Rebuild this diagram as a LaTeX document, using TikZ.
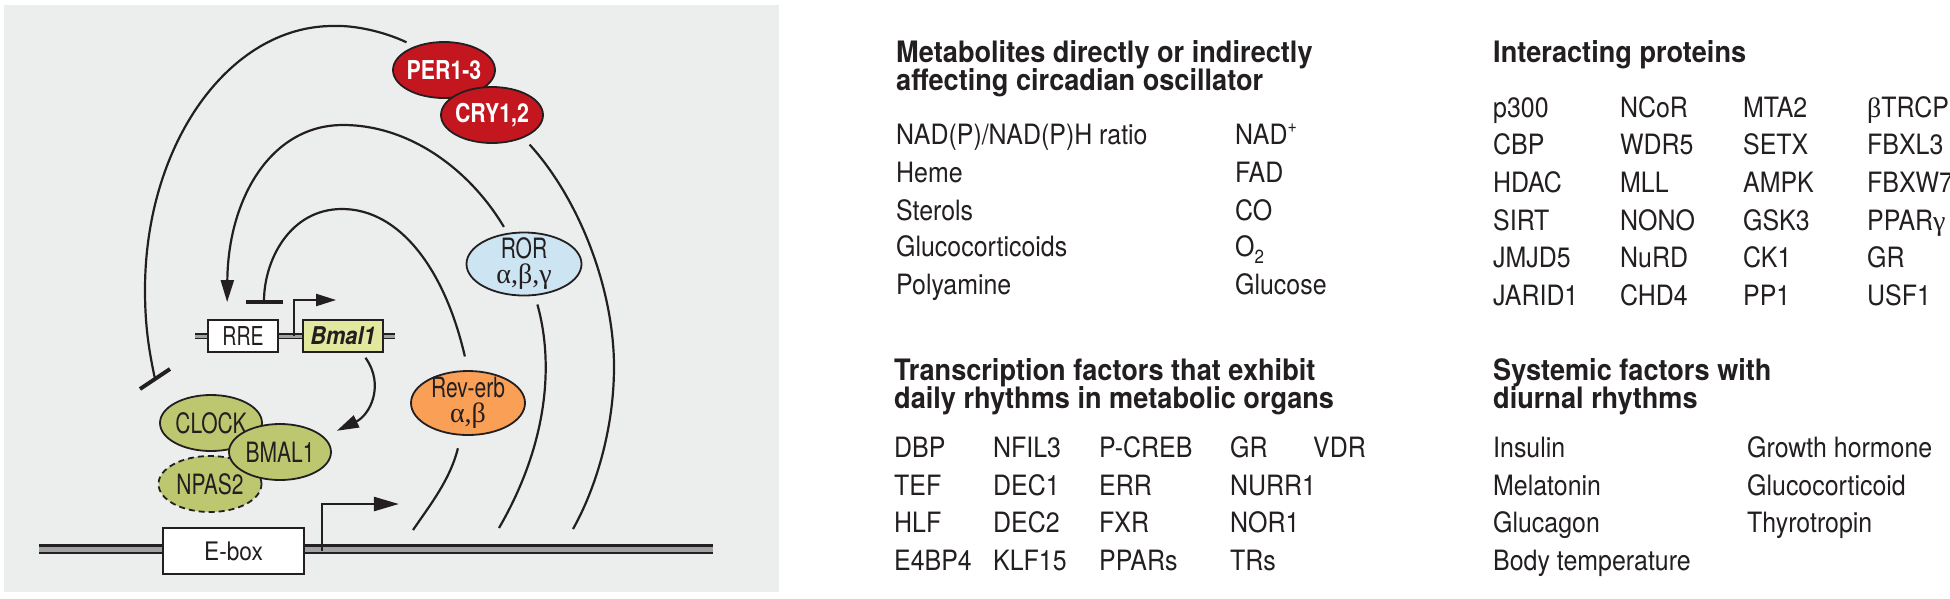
\documentclass[tikz,border=0pt]{standalone}
\usepackage{fontspec}
\setmainfont{TeX Gyre Heros}
\newfontfamily\bodyf[FakeStretch=0.89]{TeX Gyre Heros}
\newfontfamily\headf[FakeStretch=0.92]{TeX Gyre Heros}
\newfontfamily\diagf[FakeStretch=0.75]{TeX Gyre Heros}
\newfontfamily\redf[FakeStretch=0.82]{TeX Gyre Heros}
\newfontfamily\grkf{Liberation Serif}
\usetikzlibrary{shapes.geometric,arrows.meta,calc}
\definecolor{ink}{RGB}{35,31,32}
\definecolor{panel}{RGB}{236,238,237}
\definecolor{perred}{RGB}{196,22,30}
\definecolor{rorblue}{RGB}{205,228,242}
\definecolor{revorange}{RGB}{249,160,86}
\definecolor{clkgreen}{RGB}{189,199,112}
\definecolor{genyellow}{RGB}{226,232,158}
\definecolor{dnagrey}{RGB}{160,162,165}
\tikzset{
  curve/.style={draw=ink, line width=2.2pt},
  arr/.style={-{Triangle[length=22pt,width=13pt]}},
  prot/.style={ellipse, draw=ink, line width=1.8pt, inner xsep=-6pt, inner ysep=-12pt,
    minimum width=102pt, minimum height=56pt, text=ink, align=center,
    font=\diagf\fontsize{28}{25}\selectfont},
  redprot/.style={prot, fill=perred, text=white, font=\redf\bfseries\fontsize{26}{26}\selectfont},
  gene/.style={rectangle, draw=ink, line width=1.8pt, inner sep=0pt, minimum height=32pt, text=ink},
  dna/.style={draw=ink, line width=2.5pt, double=dnagrey, double distance=5pt},
  dnasmall/.style={draw=ink, line width=1.5pt, double=dnagrey, double distance=3pt},
  hd/.style={anchor=base west, inner sep=0pt, text=ink, font=\headf\bfseries\fontsize{29.5}{28}\selectfont},
  itm/.style={anchor=base west, inner sep=0pt, text=ink, font=\bodyf\fontsize{28}{28}\selectfont},
  tbar/.style={draw=ink, line width=4pt}
}
\newcommand{\supp}[1]{\raisebox{0.42em}{\fontsize{18}{18}\selectfont #1}}
\newcommand{\subb}[1]{\raisebox{-0.25em}{\fontsize{19}{19}\selectfont #1}}
\newcommand{\gk}[1]{{\grkf #1}}
\begin{document}
\begin{tikzpicture}[x=1pt,y=-1pt]
\useasboundingbox (0,0) rectangle (1950,598);
\fill[white] (0,0) rectangle (1950,598);
\fill[panel] (4,5) rectangle (779,592);

% DNA strands
\coordinate (dnaL) at (39,549);
\coordinate (dnaR) at (713,549);
\draw[dna] (dnaL) -- (dnaR);
\coordinate (rdnaL) at (195,336);
\coordinate (rdnaR) at (395,336);
\draw[dnasmall] (rdnaL) -- (rdnaR);

% gene elements
\node[gene, minimum width=141pt, minimum height=46pt, fill=white,
  font=\bodyf\fontsize{25.5}{25}\selectfont] (ebox) at (233.5,551) {E-box};
\node[gene, minimum width=70pt, fill=white,
  font=\diagf\fontsize{26}{25}\selectfont] (rre) at (243,336) {RRE};
\node[gene, minimum width=80pt, fill=genyellow,
  font=\bodyf\bfseries\itshape\fontsize{24.5}{25}\selectfont] (bmalg) at (343,336) {Bmal1};

% proteins
\node[redprot] (per) at (444,70) {PER1-3};
\node[redprot] (cry) at (492,115) {CRY1,2};
\node[prot, fill=rorblue, minimum width=115pt, minimum height=63pt] (ror) at (524,264)
  {ROR\\\gk{α,β,γ}};
\node[prot, fill=revorange, minimum width=114pt, minimum height=64pt] (rev) at (468,403)
  {Rev-erb\\\gk{α,β}};
\node[prot, fill=clkgreen] (clock) at (211,423) {CLOCK};
\node[prot, fill=clkgreen, dash pattern=on 6pt off 4pt, minimum width=103pt] (npas) at (210,484) {NPAS2};
\node[prot, fill=clkgreen] (bmalp) at (280,452) {BMAL1};

% free ends
\coordinate (clkbar) at (155,379);
\coordinate (cryend) at (573,529);
\coordinate (rorend) at (499,528);
\coordinate (revend) at (413,530);

% PER/CRY inhibit CLOCK:BMAL1
\draw[curve, shorten <=9pt] (per.141) .. controls (385,32) and (355,25) .. (333,26)
  .. controls (229,26) and (145,144) .. (145,290)
  .. controls (145,330) and (150,355) .. (clkbar);
\draw[tbar] ($(clkbar)+(-15,10)$) -- ($(clkbar)+(15,-10)$);

% ROR activates RRE
\draw[curve, arr, shorten <=7pt, shorten >=17pt] (ror.118) .. controls (470,170) and (410,125) .. (343,125)
  .. controls (270,125) and (228,200) .. ([xshift=-16pt]rre.north);

% Rev-erb inhibits RRE
\draw[curve, -{Bar[width=37pt,line width=4pt]}, shorten <=14pt, shorten >=15pt]
  (rev.north) .. controls (445,270) and (400,209) .. (342,209)
  .. controls (290,209) and (264,260) .. ([xshift=21pt]rre.north);

% outputs toward E-box promoter
\draw[curve, shorten <=9pt] (cry.-36) .. controls (580,200) and (614,290) .. (614,367)
  .. controls (614,430) and (595,490) .. (cryend);
\draw[curve, shorten <=9pt] (ror.-71) .. controls (553,360) and (550,440) .. (rorend);
\draw[curve, shorten <=13pt] (rev.-102) .. controls (450,480) and (430,505) .. (revend);

% Bmal1 gene -> BMAL1 protein
\draw[curve, arr, shorten <=6pt, shorten >=14pt] ([xshift=19pt]bmalg.south)
  .. controls (385,385) and (370,415) .. (bmalp.19);

% promoter arrows
\draw[curve, -{Triangle[length=20pt,width=12pt]}] ([xshift=-8pt]bmalg.west) -- ++(0,-36) -- ++(42,0);
\draw[draw=ink, line width=2.5pt, -{Triangle[length=25pt,width=14pt]}] ([xshift=17pt]ebox.east) -- ++(0,-47) -- ++(77,0);

% ---------- Metabolites ----------
\node[hd] (h1a) at (896,62) {Metabolites directly or indirectly};
\node[hd] (h1b) at (896,90) {affecting circadian oscillator};
\node[itm] (m1) at (896,144) {NAD(P)/NAD(P)H ratio};
\node[itm] (m2) at (896,182) {Heme};
\node[itm] (m3) at (896,220) {Sterols};
\node[itm] (m4) at (896,256) {Glucocorticoids};
\node[itm] (m5) at (896,294) {Polyamine};
\node[itm] (n1) at (1235,144) {NAD\supp{+}};
\node[itm] (n2) at (1235,182) {FAD};
\node[itm] (n3) at (1235,220) {CO};
\node[itm] (n4) at (1235,256) {O\subb{2}};
\node[itm] (n5) at (1235,294) {Glucose};

% ---------- Interacting proteins ----------
\node[hd] (h2) at (1493,62) {Interacting proteins};
\node[itm] (p11) at (1493,117) {p300};
\node[itm] (p12) at (1493,154) {CBP};
\node[itm] (p13) at (1493,192) {HDAC};
\node[itm] (p14) at (1493,230) {SIRT};
\node[itm] (p15) at (1493,267) {JMJD5};
\node[itm] (p16) at (1493,305) {JARID1};
\node[itm] (p21) at (1620,117) {NCoR};
\node[itm] (p22) at (1620,154) {WDR5};
\node[itm] (p23) at (1620,192) {MLL};
\node[itm] (p24) at (1620,230) {NONO};
\node[itm] (p25) at (1620,267) {NuRD};
\node[itm] (p26) at (1620,305) {CHD4};
\node[itm] (p31) at (1743,117) {MTA2};
\node[itm] (p32) at (1743,154) {SETX};
\node[itm] (p33) at (1743,192) {AMPK};
\node[itm] (p34) at (1743,230) {GSK3};
\node[itm] (p35) at (1743,267) {CK1};
\node[itm] (p36) at (1743,305) {PP1};
\node[itm] (p41) at (1867,117) {\gk{β}TRCP};
\node[itm] (p42) at (1867,154) {FBXL3};
\node[itm] (p43) at (1867,192) {FBXW7};
\node[itm] (p44) at (1867,230) {PPAR\gk{γ}};
\node[itm] (p45) at (1867,267) {GR};
\node[itm] (p46) at (1867,305) {USF1};

% ---------- Transcription factors ----------
\node[hd] (h3a) at (894,380) {Transcription factors that exhibit};
\node[hd] (h3b) at (894,408) {daily rhythms in metabolic organs};
\node[itm] (t11) at (894,457) {DBP};
\node[itm] (t12) at (894,495) {TEF};
\node[itm] (t13) at (894,532) {HLF};
\node[itm] (t14) at (894,570) {E4BP4};
\node[itm] (t21) at (993,457) {NFIL3};
\node[itm] (t22) at (993,495) {DEC1};
\node[itm] (t23) at (993,532) {DEC2};
\node[itm] (t24) at (993,570) {KLF15};
\node[itm] (t31) at (1099,457) {P-CREB};
\node[itm] (t32) at (1099,495) {ERR};
\node[itm] (t33) at (1099,532) {FXR};
\node[itm] (t34) at (1099,570) {PPARs};
\node[itm] (t41) at (1230,457) {GR};
\node[itm] (t42) at (1230,495) {NURR1};
\node[itm] (t43) at (1230,532) {NOR1};
\node[itm] (t44) at (1230,570) {TRs};
\node[itm] (t51) at (1313,457) {VDR};

% ---------- Systemic factors ----------
\node[hd] (h4a) at (1493,380) {Systemic factors with};
\node[hd] (h4b) at (1493,408) {diurnal rhythms};
\node[itm] (s11) at (1493,457) {Insulin};
\node[itm] (s12) at (1493,495) {Melatonin};
\node[itm] (s13) at (1493,532) {Glucagon};
\node[itm] (s14) at (1493,570) {Body temperature};
\node[itm] (s21) at (1747,457) {Growth hormone};
\node[itm] (s22) at (1747,495) {Glucocorticoid};
\node[itm] (s23) at (1747,532) {Thyrotropin};
\end{tikzpicture}
\end{document}
